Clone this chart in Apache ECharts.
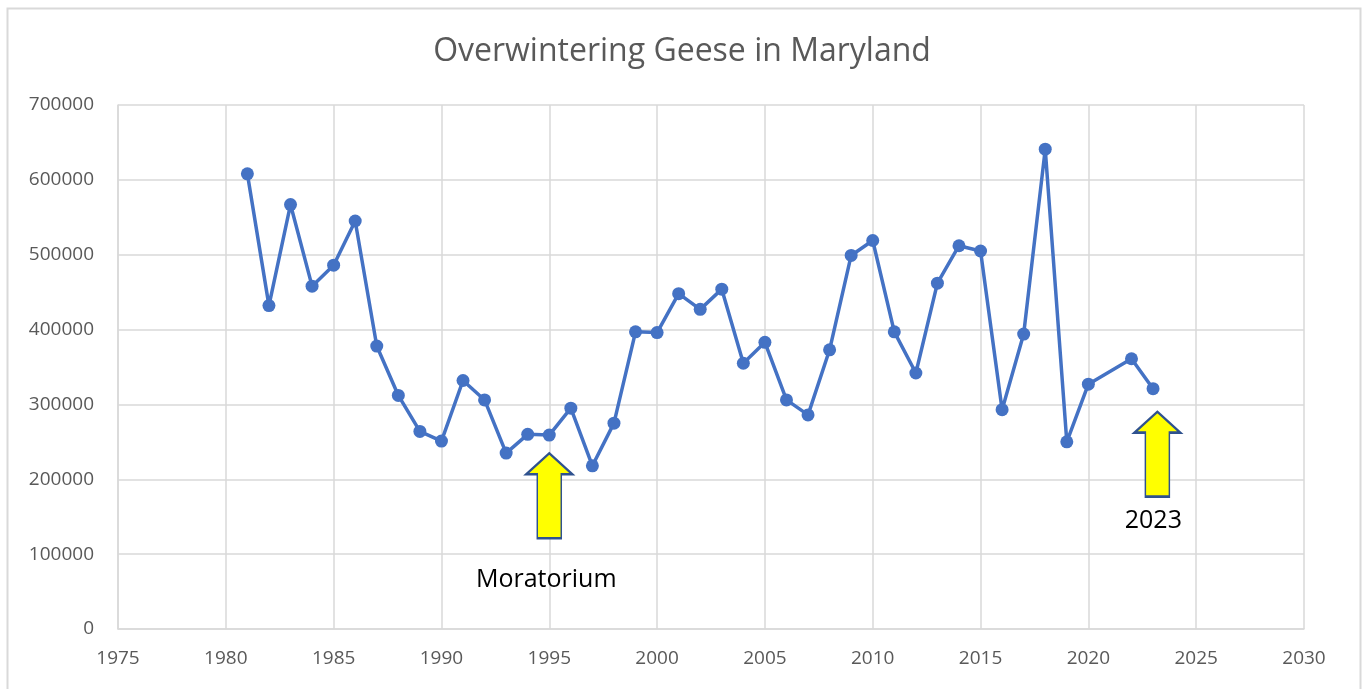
<!DOCTYPE html>
<html>
<head>
<meta charset="utf-8">
<script src="https://cdn.jsdelivr.net/npm/echarts@6/dist/echarts.min.js"></script>
<style>
  html, body { margin: 0; padding: 0; background: #fff; }
  #chart { width: 1364px; height: 689px; }
</style>
</head>
<body>
<div id="chart"></div>
<script>
// survey years and counts (2021 has no survey)
const years = [1981, 1982, 1983, 1984, 1985, 1986, 1987, 1988, 1989, 1990,
  1991, 1992, 1993, 1994, 1995, 1996, 1997, 1998, 1999, 2000,
  2001, 2002, 2003, 2004, 2005, 2006, 2007, 2008, 2009, 2010,
  2011, 2012, 2013, 2014, 2015, 2016, 2017, 2018, 2019, 2020,
  2022, 2023]
const geese = [608000, 432000, 567000, 458000, 486000, 545000, 378000, 312000, 264000, 251000,
  332000, 306000, 235000, 260000, 259000, 295000, 218000, 275000, 397000, 396000,
  448000, 427000, 454000, 355000, 383000, 306000, 286000, 373000, 499000, 519000,
  397000, 342000, 462000, 512000, 505000, 293000, 394000, 641000, 250000, 327000,
  361000, 321000]
const arrowNotes = [
  { name: 'Moratorium', x: 1995, y: 178000, dist: 28, dx: -3 },
  { name: '2023', x: 2023.2, y: 233500, dist: 10, dx: -4 }
]

const font = '"Open Sans", sans-serif'
const grey = '#595959'
const gridCol = '#d9d9d9'
const arrowPath = 'path://M23,0 L46,21 L35,21 L35,85 L11,85 L11,21 L0,21 Z'

const chart = echarts.init(document.getElementById('chart'))
chart.setOption({
  backgroundColor: '#fff',
  animation: false,
  textStyle: { fontFamily: font },
  title: {
    text: 'Overwintering Geese in Maryland',
    left: 'center', top: 31,
    textStyle: { fontFamily: font, fontSize: 32, fontWeight: 'normal', color: grey }
  },
  graphic: [{
    type: 'rect', left: 5, top: 6, silent: true,
    shape: { width: 1353, height: 700 },
    style: { fill: 'none', stroke: gridCol, lineWidth: 2 }
  }],
  grid: { left: 118, right: 60, top: 105, bottom: 60 },
  xAxis: {
    type: 'value', min: 1975, max: 2030, interval: 5,
    axisLine: { show: true, lineStyle: { color: gridCol, width: 1.5 } },
    axisTick: { show: false },
    splitLine: { show: true, lineStyle: { color: gridCol, width: 1.5 } },
    axisLabel: { color: grey, fontSize: 19, margin: 20, fontFamily: font, formatter: v => String(v) }
  },
  yAxis: {
    type: 'value', min: 0, max: 700000, interval: 100000,
    axisLine: { show: true, lineStyle: { color: gridCol, width: 1.5 } },
    axisTick: { show: false },
    splitLine: { show: true, lineStyle: { color: gridCol, width: 1.5 } },
    axisLabel: { color: grey, fontSize: 19, margin: 24, fontFamily: font, formatter: v => String(v) }
  },
  series: [{
    type: 'line',
    data: years.map((y, i) => [y, geese[i]]),
    symbol: 'circle', symbolSize: 13,
    lineStyle: { color: '#4472C4', width: 3.5 },
    itemStyle: { color: '#4472C4' },
    markPoint: {
      symbol: arrowPath,
      symbolSize: [46, 85],
      itemStyle: { color: '#FFFF00', borderColor: '#2F528F', borderWidth: 2 },
      data: arrowNotes.map(a => ({
        name: a.name, coord: [a.x, a.y],
        label: {
          show: true, position: 'bottom', distance: a.dist, offset: [a.dx, 0],
          formatter: a.name, color: '#000', fontSize: 25, fontFamily: font
        }
      }))
    }
  }]
})
</script>
</body>
</html>
